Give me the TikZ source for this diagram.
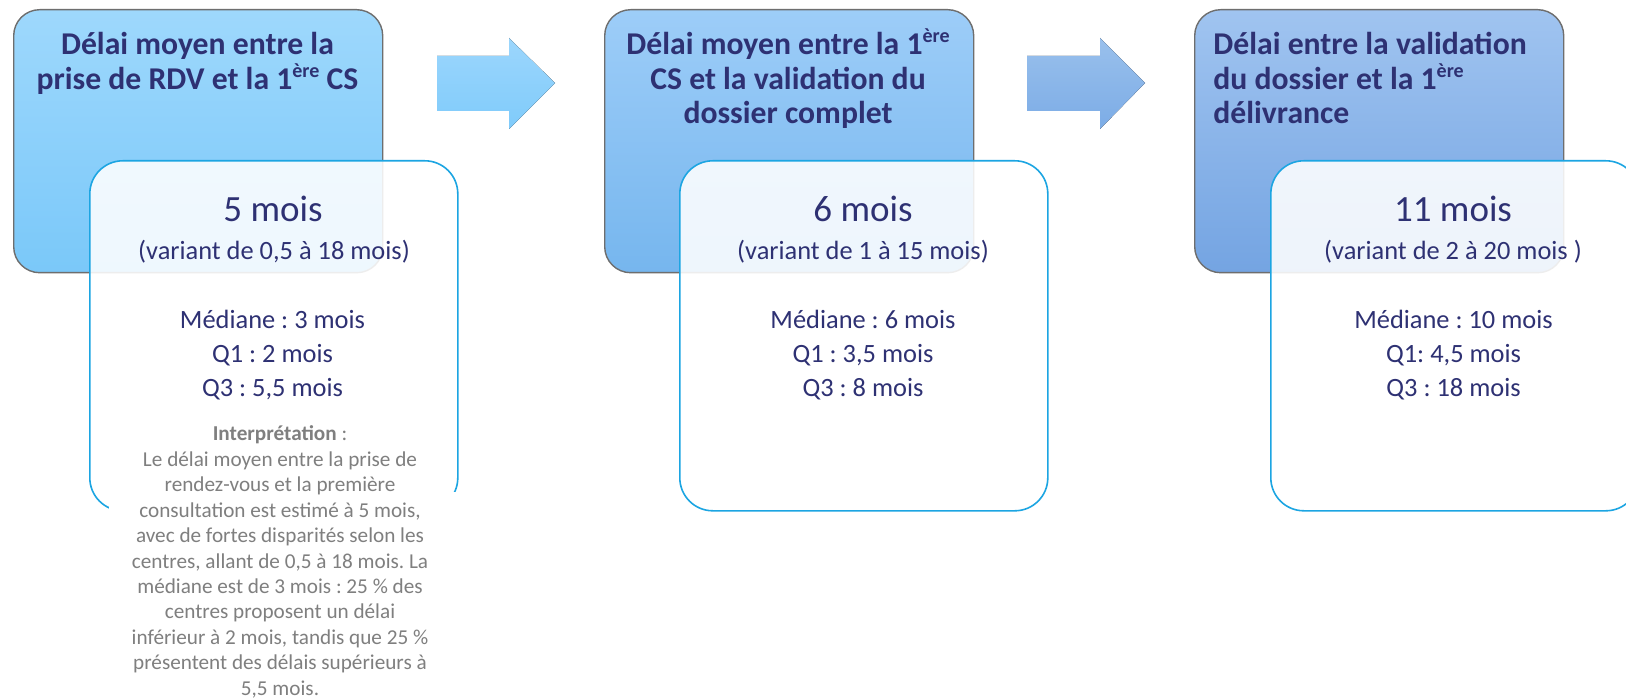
\documentclass[tikz,border=0pt]{standalone}
\usepackage{fontspec}
\setmainfont{Carlito}
\frenchspacing
\definecolor{navy}{RGB}{46,49,115}
\definecolor{igray}{RGB}{127,127,127}
\definecolor{wborder}{RGB}{28,165,226}
\definecolor{bborder}{RGB}{110,110,110}
\definecolor{boxAtop}{RGB}{158,216,252}
\definecolor{boxAbot}{RGB}{122,200,249}
\definecolor{boxBtop}{RGB}{157,205,248}
\definecolor{boxBbot}{RGB}{118,182,238}
\definecolor{boxCtop}{RGB}{160,196,240}
\definecolor{boxCbot}{RGB}{116,164,226}
\definecolor{arrAtop}{RGB}{156,214,252}
\definecolor{arrAbot}{RGB}{127,203,251}
\definecolor{arrBtop}{RGB}{153,192,236}
\definecolor{arrBbot}{RGB}{124,172,230}
\newcommand{\supere}{\raisebox{0.38em}{\fontsize{10}{10}\selectfont ère}}
\begin{document}
\begin{tikzpicture}[x=0.5pt,y=-0.5pt,
  bluebox/.style={rectangle, rounded corners=13pt, draw=bborder, line width=0.7pt,
    minimum width=184.5pt, minimum height=131.5pt, inner sep=0pt, anchor=north west},
  whitebox/.style={rectangle, rounded corners=16.5pt, draw=wborder, line width=0.8pt,
    fill=white, fill opacity=0.88, minimum width=184pt, minimum height=175pt,
    inner sep=0pt, anchor=north west},
  titletxt/.style={font=\bfseries\fontsize{15.85}{17}\selectfont, text=navy, anchor=base, inner sep=0pt},
  bigtxt/.style={font=\fontsize{18.5}{20}\selectfont, text=navy, anchor=base, inner sep=0pt},
  stattxt/.style={font=\fontsize{13.2}{15}\selectfont, text=navy, anchor=base, inner sep=0pt},
  interp/.style={font=\fontsize{10.6}{12}\selectfont, text=igray, anchor=base, inner sep=0pt},
  blockarrow/.style={draw=none}
]
\clip (0,0) rectangle (1626,699);
\fill[white] (0,0) rectangle (1626,699);

% blue header boxes
\node[bluebox, top color=boxAtop, bottom color=boxAbot] (b1) at (13,9) {};
\node[bluebox, top color=boxBtop, bottom color=boxBbot] (b2) at (604,9) {};
\node[bluebox, top color=boxCtop, bottom color=boxCbot] (b3) at (1194,9) {};

% block arrows
\fill[blockarrow, top color=arrAtop, bottom color=arrAbot]
  (437,56) -- (509,56) -- (509,38) -- (555,83) -- (509,129) -- (509,111) -- (437,111) -- cycle;
\fill[blockarrow, top color=arrBtop, bottom color=arrBbot]
  (1027,56) -- (1100,56) -- (1100,38) -- (1145,83) -- (1100,129) -- (1100,111) -- (1027,111) -- cycle;

% white value boxes
\node[whitebox] (w1) at (89,160) {};
\node[whitebox] (w2) at (679,160) {};
\node[whitebox] (w3) at (1270,160) {};

% white cover under the interpretation text
\fill[white] (109,492) rectangle (490,699);

% titles
\node[titletxt] (t1a) at (197.5,55) {Délai moyen entre la};
\node[titletxt] (t1b) at (197.5,90) {prise de RDV et la 1\supere{} CS};

\node[titletxt] (t2a) at (788,55) {Délai moyen entre la 1\supere};
\node[titletxt] (t2b) at (788,90) {CS et la validation du};
\node[titletxt] (t2c) at (788,124) {dossier complet};

\node[titletxt, anchor=base west] (t3a) at (1213,55) {Délai entre la validation};
\node[titletxt, anchor=base west] (t3b) at (1213,90) {du dossier et la 1\supere};
\node[titletxt, anchor=base west] (t3c) at (1213,124) {délivrance};

% big values
\node[bigtxt] (v1) at (273,222) {5 mois};
\node[bigtxt] (v2) at (863,222) {6 mois};
\node[bigtxt] (v3) at (1453,222) {11 mois};

\node[stattxt] (r1) at (274,260) {(variant de 0,5 à 18 mois)};
\node[stattxt] (r2) at (863,260) {(variant de 1 à 15 mois)};
\node[stattxt] (r3) at (1453,260) {(variant de 2 à 20 mois )};

% statistics
\node[stattxt] (m1) at (272.5,329) {Médiane : 3 mois};
\node[stattxt] (qa1) at (272.5,363) {Q1 : 2 mois};
\node[stattxt] (qc1) at (272.5,397) {Q3 : 5,5 mois};

\node[stattxt] (m2) at (863,329) {Médiane : 6 mois};
\node[stattxt] (qa2) at (863,363) {Q1 : 3,5 mois};
\node[stattxt] (qc2) at (863,397) {Q3 : 8 mois};

\node[stattxt] (m3) at (1453.5,329) {Médiane : 10 mois};
\node[stattxt] (qa3) at (1453.5,363) {Q1: 4,5 mois};
\node[stattxt] (qc3) at (1453.5,397) {Q3 : 18 mois};

% interpretation
\node[interp] (i0) at (280,441) {\textbf{Interprétation} :};
\node[interp] (i1) at (280,466.4) {Le délai moyen entre la prise de};
\node[interp] (i2) at (280,491.8) {rendez-vous et la première};
\node[interp] (i3) at (280,517.2) {consultation est estimé à 5 mois,};
\node[interp] (i4) at (280,542.6) {avec de fortes disparités selon les};
\node[interp] (i5) at (280,568) {centres, allant de 0,5 à 18 mois. La};
\node[interp] (i6) at (280,593.4) {médiane est de 3 mois : 25 \% des};
\node[interp] (i7) at (280,618.8) {centres proposent un délai};
\node[interp] (i8) at (280,644.2) {inférieur à 2 mois, tandis que 25 \%};
\node[interp] (i9) at (280,669.6) {présentent des délais supérieurs à};
\node[interp] (i10) at (280,695) {5,5 mois.};
\end{tikzpicture}
\end{document}
